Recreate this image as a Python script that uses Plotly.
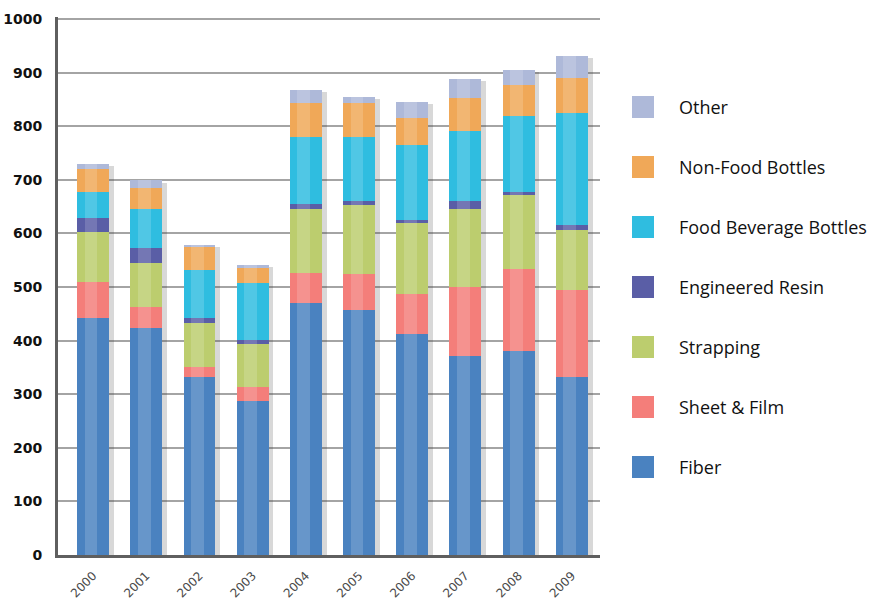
import plotly.graph_objects as go

# PET end-use volumes by year (stacked, bottom to top)
years = ["2000", "2001", "2002", "2003", "2004", "2005", "2006", "2007", "2008", "2009"]
fiber = [443, 424, 333, 287, 471, 457, 413, 372, 381, 333]
sheet_film = [66, 38, 17, 27, 55, 68, 74, 128, 153, 161]
strapping = [93, 83, 83, 80, 120, 129, 132, 145, 137, 112]
engineered_resin = [26, 27, 9, 7, 9, 7, 6, 15, 6, 9]
food_bev_bottles = [50, 73, 90, 107, 126, 120, 140, 131, 142, 209]
non_food_bottles = [43, 39, 42, 28, 62, 62, 51, 61, 58, 67]
other = [9, 15, 5, 6, 25, 12, 30, 36, 28, 40]
y_ticks = [0, 100, 200, 300, 400, 500, 600, 700, 800, 900, 1000]

series = [
    ("Fiber", fiber, "#4a82c0"),
    ("Sheet & Film", sheet_film, "#f47e7a"),
    ("Strapping", strapping, "#bccd6e"),
    ("Engineered Resin", engineered_resin, "#5a5ea6"),
    ("Food Beverage Bottles", food_bev_bottles, "#2fbde0"),
    ("Non-Food Bottles", non_food_bottles, "#f0a858"),
    ("Other", other, "#aeb9d9"),
]

xs = list(range(len(years)))
totals = [sum(v) for v in zip(*[s[1] for s in series])]
bar_w = 0.6

fig = go.Figure()

# soft drop shadow to the right of each stacked column
fig.add_trace(go.Bar(
    x=[x + 0.09 for x in xs], y=[t - 4 for t in totals], width=bar_w,
    marker=dict(color="rgba(60,60,60,0.2)", line=dict(width=0)),
    showlegend=False, hoverinfo="skip",
))

for name, vals, color in series:
    fig.add_trace(go.Bar(
        x=xs, y=vals, name=name, width=bar_w,
        marker=dict(color=color, line=dict(width=0)),
        showlegend=False,
    ))

# light sheen down the middle of each column
fig.add_trace(go.Bar(
    x=[x - 0.04 for x in xs], y=totals, width=0.24,
    marker=dict(color="rgba(255,255,255,0.16)", line=dict(width=0)),
    showlegend=False, hoverinfo="skip",
))

# legend drawn as squares + labels to the right of the plot, top item = top of stack
plot_l, plot_r, plot_t, plot_b = 58, 600, 17, 555
pw, ph = plot_r - plot_l, plot_b - plot_t


def px_x(v):
    return (v - plot_l) / pw


def px_y(v):
    return (plot_b - v) / ph


for k, (name, vals, color) in enumerate(reversed(series)):
    cy = 107 + 60 * k
    fig.add_shape(
        type="rect", xref="paper", yref="paper",
        x0=px_x(632), x1=px_x(654), y0=px_y(cy + 11), y1=px_y(cy - 11),
        fillcolor=color, line=dict(width=0), layer="above",
    )
    fig.add_annotation(
        xref="paper", yref="paper", x=px_x(677), y=px_y(cy),
        xanchor="left", yanchor="middle", text=name, showarrow=False,
        font=dict(family="Open Sans, Liberation Sans, sans-serif", size=18, color="#111"),
    )

fig.update_layout(
    width=872, height=600,
    barmode="stack",
    plot_bgcolor="white", paper_bgcolor="white",
    margin=dict(l=plot_l, r=872 - plot_r, t=plot_t, b=600 - plot_b),
    showlegend=False,
    xaxis=dict(
        tickmode="array", tickvals=xs, ticktext=years,
        range=[-0.66, 9.53], automargin=False,
        tickfont=dict(family="DejaVu Sans, Liberation Sans", size=12, color="#4a4a4a"),
        showgrid=False, showline=True, linecolor="#5f5f5f", linewidth=3,
        ticks="", zeroline=False, ticklabelstandoff=6,
    ),
    yaxis=dict(
        range=[0, 1004], tickmode="array", tickvals=y_ticks, automargin=False,
        tickfont=dict(family="DejaVu Sans", size=14, color="#111", weight="bold"),
        showgrid=True, gridcolor="#a4a4a4", gridwidth=2,
        showline=True, linecolor="#5f5f5f", linewidth=3,
        ticks="", zeroline=False, ticklabelstandoff=10,
    ),
)
fig.update_xaxes(tickangle=-45)

fig.write_html("out.html")
